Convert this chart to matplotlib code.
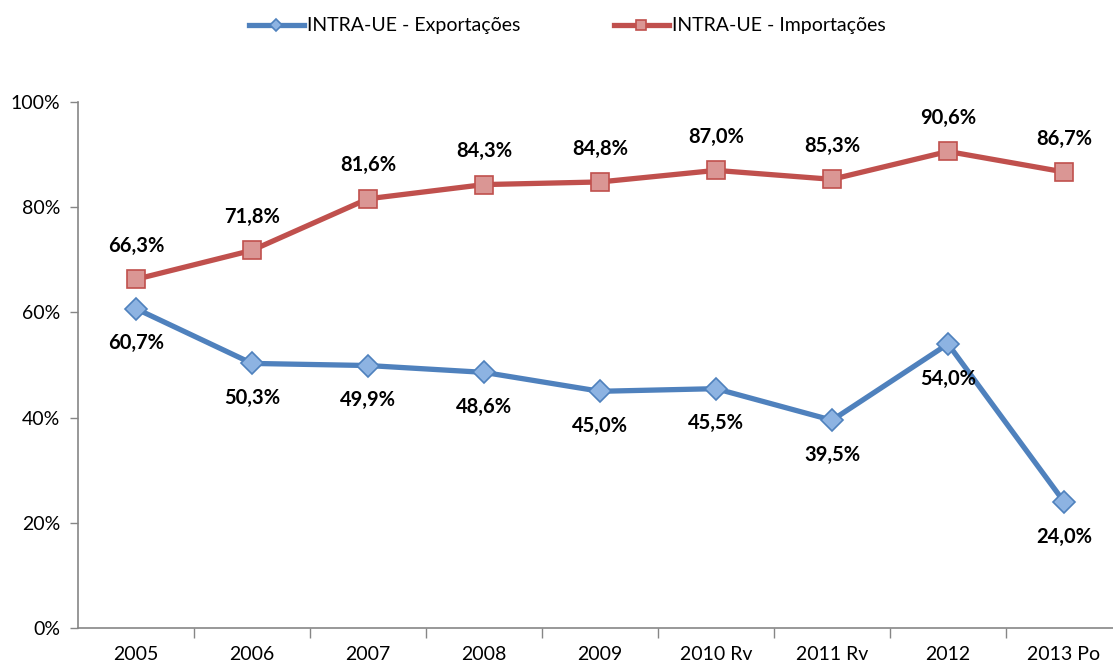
#!/bin/env python
"""INTRA-UE exports/imports share plot
"""
import numpy as np
import matplotlib as mpl
import matplotlib.pyplot as plt
from matplotlib.ticker import FixedLocator, PercentFormatter

# data
YEARS = ['2005', '2006', '2007', '2008', '2009', '2010 Rv', '2011 Rv', '2012', '2013 Po']
EXPORTS = [60.7, 50.3, 49.9, 48.6, 45.0, 45.5, 39.5, 54.0, 24.0]
IMPORTS = [66.3, 71.8, 81.6, 84.3, 84.8, 87.0, 85.3, 90.6, 86.7]
EXP_LABEL = 'INTRA-UE - Exportações'
IMP_LABEL = 'INTRA-UE - Importações'

# configuration
plt.rcParams['font.family'] = ['Lato', 'DejaVu Sans']
plt.rc('font', size=14)

BLUE, BLUE_FACE = '#4F81BD', '#8DB3E2'
RED, RED_FACE = '#C0504D', '#DA9694'


def main():
    fig = plt.figure(figsize=(11.13, 6.64), dpi=100)
    W, H = 1113, 664
    ax = fig.add_axes([78 / W, 36 / H, (1122 - 78) / W, (628 - 102) / H])
    x = np.arange(len(YEARS))

    ax.plot(x, EXPORTS, color=BLUE, lw=3.8, marker='D', ms=11,
            mfc=BLUE_FACE, mec=BLUE, mew=1.2, label=EXP_LABEL, zorder=3)
    ax.plot(x, IMPORTS, color=RED, lw=3.8, marker='s', ms=13,
            mfc=RED_FACE, mec=RED, mew=1.2, label=IMP_LABEL, zorder=3)

    for xi, v in zip(x, EXPORTS):
        ax.annotate(f"{v:.1f}%".replace('.', ','), (xi, v), xytext=(0, -25),
                    textcoords='offset points', ha='center', va='center',
                    fontweight='bold', fontsize=14.5)
    for xi, v in zip(x, IMPORTS):
        ax.annotate(f"{v:.1f}%".replace('.', ','), (xi, v), xytext=(0, 24),
                    textcoords='offset points', ha='center', va='center',
                    fontweight='bold', fontsize=14.5)

    ax.set_xlim(-0.5, len(YEARS) - 0.5)
    ax.set_ylim(0, 100)
    ax.set_yticks(np.arange(0, 101, 20))
    ax.yaxis.set_major_formatter(PercentFormatter(decimals=0))
    ax.set_xticks(x)
    ax.set_xticklabels(YEARS)
    ax.tick_params(axis='x', length=0, pad=13)
    ax.xaxis.set_minor_locator(FixedLocator(x[:-1] + 0.5))
    ax.tick_params(axis='x', which='minor', length=7, color='#868686', width=1)
    ax.tick_params(axis='y', length=6, color='#868686', width=1, pad=7)
    for side in ('top', 'right'):
        ax.spines[side].set_visible(False)
    for side in ('left', 'bottom'):
        ax.spines[side].set_color('#868686')
        ax.spines[side].set_linewidth(1.2)

    fig.legend(loc='upper center', bbox_to_anchor=(0.51, 1.0), ncol=2,
               frameon=False, fontsize=14, handlelength=2.8, columnspacing=4.8,
               handletextpad=0.2, markerscale=0.6)

    fig.savefig('out.png', dpi=100)
    return 0


if __name__ == '__main__':
    main()
